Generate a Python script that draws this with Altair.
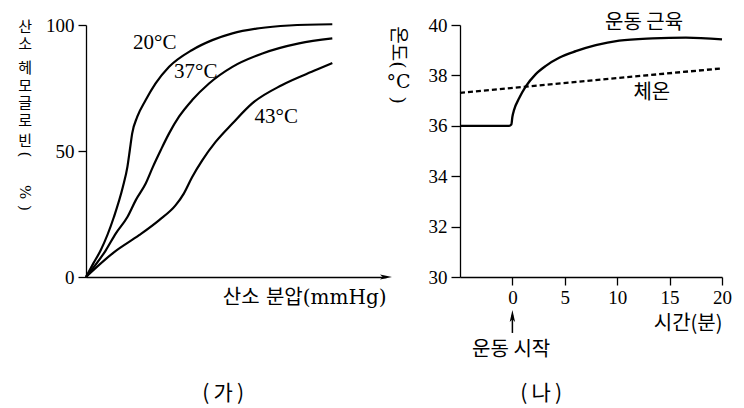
import altair as alt
import pandas as pd

SERIF = "Liberation Serif"
KR = "Noto Sans CJK KR"
MIX = "DejaVu Serif, Noto Sans CJK KR"

# ---------------- (가) oxygen–haemoglobin dissociation curves ----------------
po2_20 = [0, 2.4, 4.9, 9.3, 12.3, 13.8, 14.6, 15.4, 17.1, 19.9, 23.2, 27.7, 35.4, 42.1, 48.8, 57.7, 67.7, 82.1]
sat_20 = [0, 5.3, 10.6, 23.8, 35.8, 43.7, 50.3, 57.0, 63.6, 70.2, 76.8, 83.4, 90.1, 94.0, 96.7, 98.7, 99.8, 100.3]
po2_37 = [0, 6.6, 9.9, 13.8, 16.6, 19.9, 22.3, 24.9, 27.7, 31.0, 35.4, 41.0, 48.8, 58.8, 71.0, 82.1]
sat_37 = [0, 10.6, 17.2, 23.8, 30.5, 37.1, 43.7, 50.3, 57.0, 63.6, 70.2, 76.8, 83.4, 88.7, 92.7, 94.7]
po2_43 = [0, 9.4, 17.7, 24.3, 29.9, 32.6, 35.4, 38.8, 43.2, 48.8, 55.4, 65.4, 76.6, 82.1]
sat_43 = [0, 9.9, 16.6, 22.5, 28.5, 33.1, 39.7, 46.4, 53.6, 60.9, 68.9, 76.2, 82.1, 84.9]

curve_names = ["20°C", "37°C", "43°C"]
curve_label_x = [22.9, 36.6, 63.4]
curve_label_y = [92.7, 81.5, 63.3]

left_y_ticks = [0, 50, 100]

# vertical y title of (가): glyphs, their height on the y scale, rotation
ltitle_chars = ["산", "소", "헤", "모", "글", "로", "빈", "(", "%", ")"]
ltitle_y = [99.4, 92.3, 82.8, 75.8, 68.9, 61.9, 54.1, 48.6, 33.7, 27.4]
ltitle_angle = [0, 0, 0, 0, 0, 0, 0, 90, 90, 90]

# ---------------- (나) temperature during exercise ----------------
time_min = [-5, -0.31, -0.1, 0, 0.16, 0.64, 1.28, 2.23, 3.19, 4.46, 6.05, 7.96, 10.19, 13.38, 16.56, 20]
muscle_temp = [36, 36, 36.05, 36.36, 36.63, 37.09, 37.56, 38.05, 38.38, 38.7, 38.96, 39.2, 39.38, 39.47, 39.5, 39.43]
body_time = [-5, 20]
body_temp = [37.31, 38.28]

right_x_ticks = [0, 5, 10, 15, 20]
right_y_ticks = [30, 32, 34, 36, 38, 40]

rtitle_parts = ["온도(", "°C", ")"]
rtitle_y = [39.11, 37.72, 37.02]
rtitle_angle = [90, 0, 90]

# ---------------- tables ----------------
o2 = pd.concat([
    pd.DataFrame({"x": po2_20, "y": sat_20, "temp": "20"}),
    pd.DataFrame({"x": po2_37, "y": sat_37, "temp": "37"}),
    pd.DataFrame({"x": po2_43, "y": sat_43, "temp": "43"}),
])
o2_labels = pd.DataFrame({"x": curve_label_x, "y": curve_label_y, "t": curve_names})
ltitle = pd.DataFrame({"x": -20.3, "y": ltitle_y, "t": ltitle_chars, "a": ltitle_angle})

ax_common = dict(grid=False, domainColor="black", tickColor="black", labelColor="black",
                 labelFont=SERIF, labelFontSize=19, labelFlush=False, domainWidth=1.3,
                 tickWidth=1.3, titleColor="black", titleFontWeight="normal")

xl = alt.X("x:Q", scale=alt.Scale(domain=[0, 100], nice=False, zero=False),
           axis=alt.Axis(ticks=False, labels=False, title="산소  분압(mmHg)", titleFont=MIX,
                         titleFontSize=20, titleAnchor="end", titlePadding=10, **ax_common))
yl = alt.Y("y:Q", scale=alt.Scale(domain=[0, 100], nice=False, zero=False),
           axis=alt.Axis(values=left_y_ticks, tickSize=8, labelPadding=4, title=None, **ax_common))

lines_l = alt.Chart(o2).mark_line(color="black", strokeWidth=2.2, interpolate="monotone").encode(
    x=xl, y=yl, detail="temp:N")
labels_l = alt.Chart(o2_labels).mark_text(font=SERIF, fontSize=21, color="black").encode(
    x=xl, y=yl, text="t:N")
arrow_l = alt.Chart(pd.DataFrame({"x": [100], "y": [0]})).mark_point(
    shape="M-1,-0.42L1,0L-1,0.42L-0.55,0Z", filled=True, size=144, color="black",
    opacity=1, strokeWidth=0).encode(x=xl, y=yl)
title_l = alt.Chart(ltitle).mark_text(font=MIX, fontSize=15, color="black").encode(
    x=xl, y=yl, text="t:N", angle=alt.Angle("a:Q", scale=None))
tag_l = alt.Chart(pd.DataFrame({"x": [45.7], "y": [-46.4], "t": ["(\u2009가\u2009)"]})).mark_text(
    font=KR, fontSize=21, color="black").encode(x=xl, y=yl, text="t:N")

left = alt.layer(lines_l, labels_l, arrow_l, title_l, tag_l).properties(width=300, height=252)

# ---------------- right panel ----------------
muscle = pd.DataFrame({"x": time_min, "y": muscle_temp})
body = pd.DataFrame({"x": body_time, "y": body_temp})
rtitle = pd.DataFrame({"x": -10.87, "y": rtitle_y, "t": rtitle_parts, "a": rtitle_angle})

xr = alt.X("x:Q", scale=alt.Scale(domain=[-5, 20], nice=False, zero=False),
           axis=alt.Axis(values=right_x_ticks, tickSize=8, labelPadding=3, title="시간(분)",
                         titleFont=KR, titleFontSize=20, titleAnchor="end", titlePadding=6,
                         **ax_common))
yr = alt.Y("y:Q", scale=alt.Scale(domain=[30, 40], nice=False, zero=False),
           axis=alt.Axis(values=right_y_ticks, tickSize=9, labelPadding=4, title=None, **ax_common))

muscle_line = alt.Chart(muscle).mark_line(color="black", strokeWidth=2.3, interpolate="monotone").encode(
    x=xr, y=yr)
body_line = alt.Chart(body).mark_line(color="black", strokeWidth=2.3, strokeDash=[5, 3]).encode(
    x=xr, y=yr)
r_labels = alt.Chart(pd.DataFrame({"x": [12.56, 13.3], "y": [40.07, 37.31],
                                   "t": ["운동  근육", "체온"]})).mark_text(
    font=KR, fontSize=20, color="black").encode(x=xr, y=yr, text="t:N")
title_r = alt.Chart(rtitle).mark_text(font=MIX, fontSize=19, color="black").encode(
    x=xr, y=yr, text="t:N", angle=alt.Angle("a:Q", scale=None))
start_shaft = alt.Chart(pd.DataFrame({"x": [0], "y": [27.78], "y2": [28.5]})).mark_rule(
    color="black", strokeWidth=1.5).encode(x=xr, y=yr, y2="y2:Q")
start_head = alt.Chart(pd.DataFrame({"x": [0], "y": [28.45]})).mark_point(
    shape="M0,-1L0.45,1L0,0.55L-0.45,1Z", filled=True, size=144, color="black",
    opacity=1, strokeWidth=0).encode(x=xr, y=yr)
start_text = alt.Chart(pd.DataFrame({"x": [-0.12], "y": [27.1], "t": ["운동  시작"]})).mark_text(
    font=KR, fontSize=20, color="black").encode(x=xr, y=yr, text="t:N")
tag_r = alt.Chart(pd.DataFrame({"x": [2.74], "y": [25.36], "t": ["(\u2009나\u2009)"]})).mark_text(
    font=KR, fontSize=21, color="black").encode(x=xr, y=yr, text="t:N")

right = alt.layer(muscle_line, body_line, r_labels, title_r,
                  start_shaft, start_head, start_text, tag_r).properties(width=262, height=252)

chart = alt.hconcat(left, right, spacing=74, bounds="flush").properties(
    padding={"left": 17, "top": 13, "right": 5, "bottom": 2},
    background="white",
).configure_view(stroke=None)

chart.save("out.html", embed_options={"renderer": "svg", "actions": False})
